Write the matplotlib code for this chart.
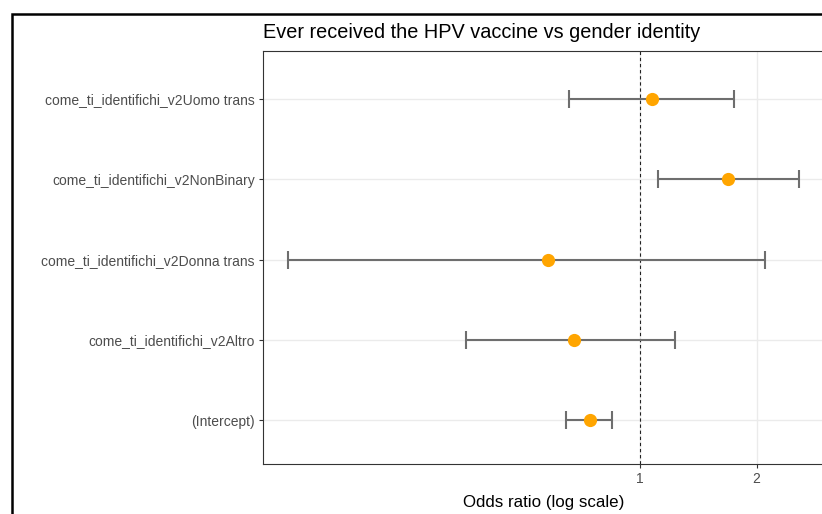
import numpy as np
import matplotlib
matplotlib.use("Agg")
import matplotlib.pyplot as plt
from matplotlib.patches import Rectangle

plt.rcParams["font.family"] = ["Liberation Sans", "DejaVu Sans"]

# ── data (odds ratios with 95% CI), top row first ──────────────────────────
terms = [
    "come_ti_identifichi_v2Uomo trans",
    "come_ti_identifichi_v2NonBinary",
    "come_ti_identifichi_v2Donna trans",
    "come_ti_identifichi_v2Altro",
    "(Intercept)",
]
odds_ratio = [1.072, 1.691, 0.579, 0.675, 0.741]
ci_low     = [0.655, 1.113, 0.123, 0.355, 0.645]
ci_high    = [1.752, 2.580, 2.108, 1.234, 0.848]
x_ticks = [1, 2]

TITLE = "Ever received the HPV vaccine vs gender identity"
XLABEL = "Odds ratio (log scale)"

W, H = 822, 514
fig = plt.figure(figsize=(W / 100, H / 100), dpi=100)

# panel placed in pixel terms (right edge runs just past the crop)
left, right, bottom, top = 263, 825, 464, 51
ax = fig.add_axes([left / W, 1 - bottom / H, (right - left) / W, (bottom - top) / H])

n = len(terms)
ypos = np.arange(n)[::-1] + 1  # top row gets highest y
orr = np.array(odds_ratio)
lo = np.array(ci_low)
hi = np.array(ci_high)

ax.axvline(1, color="#222222", lw=0.8, ls=(0, (3, 2.5)), zorder=2)
ax.errorbar(orr, ypos, xerr=[orr - lo, hi - orr], fmt="none",
            ecolor="#6e6e6e", elinewidth=1.5, capsize=6.8, capthick=1.5, zorder=3)
ax.plot(orr, ypos, "o", color="#ffa500", markersize=9.5, markeredgewidth=0, zorder=4)

ax.set_xscale("log")
ax.set_xlim(0.1062, 3.006)
ax.set_ylim(0.452, 5.598)
ax.set_xticks(x_ticks)
ax.set_xticklabels([str(t) for t in x_ticks])
ax.xaxis.set_minor_locator(matplotlib.ticker.NullLocator())
ax.set_yticks(ypos)
ax.set_yticklabels(terms)

ax.grid(True, color="#ebebeb", lw=1.0, zorder=0)
ax.set_axisbelow(True)
for sp in ax.spines.values():
    sp.set_color("#333333")
    sp.set_linewidth(0.8)
ax.tick_params(axis="both", colors="#333333", length=3, width=0.8,
               labelsize=10, labelcolor="#4d4d4d", pad=3)
ax.set_xlabel(XLABEL, fontsize=12.2, color="black", labelpad=6)

fig.text(left / W, 1 - 38.5 / H, TITLE, ha="left", va="baseline", fontsize=14.3)

# black frame of the screenshot (cropped at right and bottom)
fig.patches.append(Rectangle((11.5 / W, -0.2), 2.0, 1.2 - 14.5 / H,
                             transform=fig.transFigure, fill=False,
                             ec="black", lw=1.8))

fig.savefig("out.png", dpi=100)
